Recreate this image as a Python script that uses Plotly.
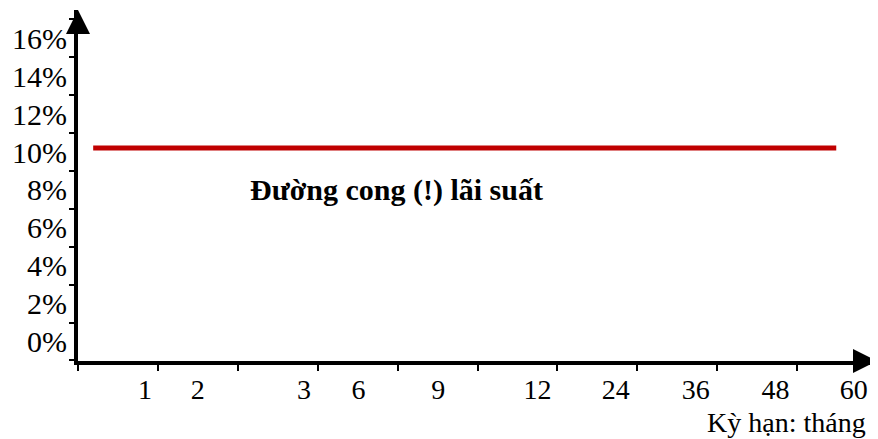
import plotly.graph_objects as go

# --- data ---
maturity_labels = ["1", "2", "3", "6", "9", "12", "24", "36", "48", "60"]
label_slots = [0.84, 1.50, 2.83, 3.51, 4.51, 5.75, 6.73, 7.73, 8.73, 9.71]
slot_bounds = [0, 1, 2, 3, 4, 5, 6, 7, 8, 9]
curve_span = [0.19, 9.49]
curve_rate = [10.22, 10.22]
rate_ticks = [0, 2, 4, 6, 8, 10, 12, 14, 16]
rate_tick_text = ["0%", "2%", "4%", "6%", "8%", "10%", "12%", "14%", "16%"]

FONT = "Liberation Serif"

fig = go.Figure()
fig.add_trace(go.Scatter(
    x=curve_span, y=curve_rate, mode="lines",
    line=dict(color="#C00000", width=5),
    hoverinfo="skip", showlegend=False, cliponaxis=False,
))

# page body has an 8px margin, so the figure is offset by 8px
fig.update_layout(
    width=870, height=431,
    margin=dict(l=70, r=1, t=2, b=78),
    paper_bgcolor="white", plot_bgcolor="white",
    showlegend=False,
    font=dict(family=FONT, color="black"),
)

fig.update_xaxes(
    range=[0, 10], showgrid=False, zeroline=False,
    showline=True, linecolor="black", linewidth=4,
    tickmode="array", tickvals=label_slots, ticktext=maturity_labels,
    ticks="", ticklabelstandoff=0,
    tickfont=dict(family=FONT, size=28, color="black"),
    minor=dict(tickmode="array", tickvals=slot_bounds, ticks="outside",
               ticklen=6, tickwidth=2, tickcolor="black", showgrid=False),
)
fig.update_yaxes(
    range=[-1.03, 17.5], showgrid=False, zeroline=False,
    showline=True, linecolor="black", linewidth=4,
    tickmode="array", tickvals=rate_ticks, ticktext=rate_tick_text,
    ticks="", ticklabelstandoff=1,
    tickfont=dict(family=FONT, size=30, color="black"),
    minor=dict(tick0=1, dtick=2, ticks="outside", ticklen=5, tickwidth=2,
               tickcolor="black", showgrid=False),
)

# arrowheads on axes
fig.add_annotation(xref="paper", yref="paper", x=0, y=1.0, ax=0, ay=20,
                   text="", showarrow=True, arrowhead=2, arrowsize=1.2,
                   arrowwidth=4, arrowcolor="black")
fig.add_annotation(xref="paper", yref="paper", x=1.0, y=0, ax=-20, ay=0,
                   text="", showarrow=True, arrowhead=2, arrowsize=1.2,
                   arrowwidth=4, arrowcolor="black")

# axis title
fig.add_annotation(xref="paper", yref="paper", x=(868 - 78) / 799, y=-(422 - 361) / 351,
                   xanchor="right", yanchor="middle", showarrow=False,
                   text="Kỳ hạn: tháng",
                   font=dict(family=FONT, size=28, color="black"))

# curve label
fig.add_annotation(xref="x", yref="y", x=(396 - 78) / 79.9, y=(341.5 - 190) / 18.94,
                   xanchor="center", yanchor="middle", showarrow=False,
                   text="<b>Đường cong (!) lãi suất</b>",
                   font=dict(family=FONT, size=30, color="black"))

fig.write_html("out.html")
